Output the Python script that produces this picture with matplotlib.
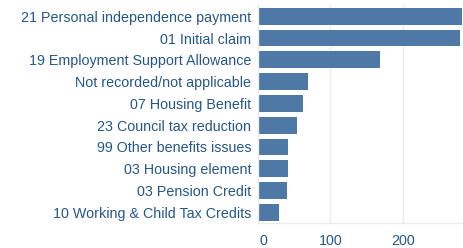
import matplotlib
matplotlib.use("Agg")
import matplotlib.pyplot as plt
import matplotlib.transforms as mtransforms

categories = [
    "21 Personal independence payment",
    "01 Initial claim",
    "19 Employment Support Allowance",
    "Not recorded/not applicable",
    "07 Housing Benefit",
    "23 Council tax reduction",
    "99 Other benefits issues",
    "03 Housing element",
    "03 Pension Credit",
    "10 Working & Child Tax Credits",
]
values = [281, 279, 168, 69, 62, 54, 41, 41, 40, 29]
xticks = [0, 100, 200]

plt.rcParams['font.family'] = ['Liberation Sans', 'DejaVu Sans']
text_color = '#25578a'
bar_color = '#4e79a7'

fig = plt.figure(figsize=(4.63, 2.48), dpi=100)
ax = fig.add_axes([258 / 463, 24.8 / 248, 1 - 258 / 463, (223.2 - 5.4) / 248])

ypos = list(range(len(categories)))
ax.barh(ypos, values, height=0.77, color=bar_color, zorder=2)
ax.set_yticks(ypos)
ax.set_yticklabels(categories, fontsize=10.3, color=text_color)
ax.set_ylim(len(categories) - 0.5, -0.5)
ax.set_xlim(0, 283)
ax.set_xticks(xticks)
ax.set_xticklabels([str(t) for t in xticks], fontsize=10.3, color=text_color)
ax.tick_params(axis='both', length=0)
ax.tick_params(axis='y', pad=5)
ax.tick_params(axis='x', pad=8)
ax.grid(axis='x', color='#ebebeb', linewidth=1, zorder=0)
for s in ['top', 'right']:
    ax.spines[s].set_visible(False)
for s in ['left', 'bottom']:
    ax.spines[s].set_color('#ebebeb')
    ax.spines[s].set_linewidth(1)

# shift the "0" label slightly right as in the reference
lbl0 = ax.get_xticklabels()[0]
lbl0.set_transform(lbl0.get_transform() + mtransforms.ScaledTranslation(5 / 100, 0, fig.dpi_scale_trans))

fig.savefig("out.png", dpi=100)
